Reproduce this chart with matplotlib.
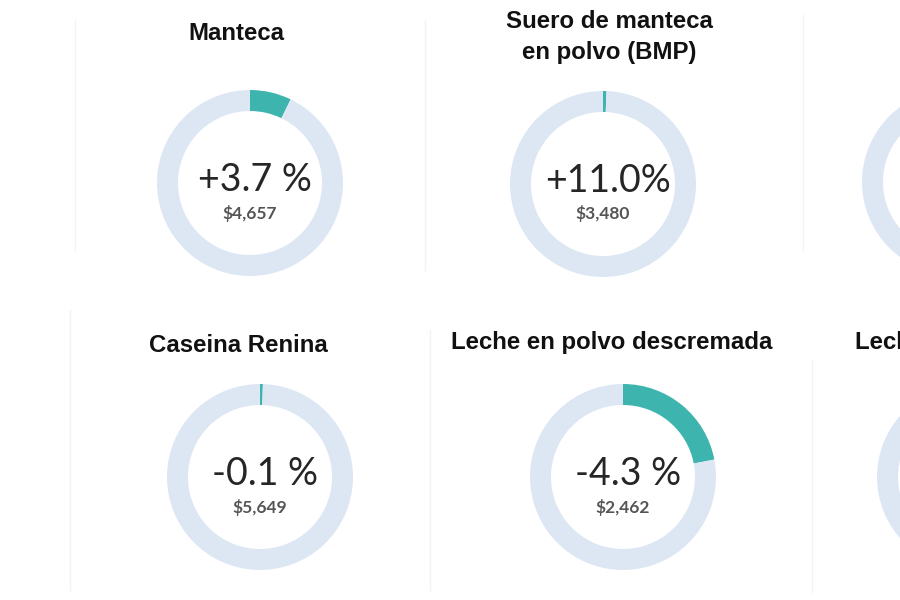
import matplotlib
matplotlib.use("Agg")
import matplotlib.pyplot as plt

# cards of the dashboard (row by row), right column is cut by the picture edge
titles = ["Manteca", "Suero de manteca\nen polvo (BMP)", "",
          "Caseina Renina", "Leche en polvo descremada", "Leche en polvo entera"]
changes = ["+3.7 %", "+11.0%", "", "-0.1 %", "-4.3 %", ""]
prices = ["$4,657", "$3,480", "", "$5,649", "$2,462", ""]
shares = [0.072, 0.006, None, 0.005, 0.22, None]

# layout in pixels (x from left, y from top)
centers = [(250, 183), (603, 184), (955, 182),
           (260, 477), (623, 477), (970, 477)]
title_xy = [(236, 33), (609, 37), (955, 33),
            (238, 345), (612, 342), (855, 342)]
radius = 93
ring_w = 21

teal = "#3db5ae"
ring = "#dde7f4"
H = 600

fig = plt.figure(figsize=(9, 6), dpi=100)
ax = fig.add_axes([0, 0, 1, 1])

# faint card separators
for x, y0, y1 in [(75, 20, 250), (425, 20, 270), (803, 15, 250),
                  (70, 310, 590), (430, 330, 590), (812, 360, 592)]:
    ax.plot([x, x], [H - y0, H - y1], color="#f3f3f3", lw=1, zorder=0)

for i in range(len(titles)):
    cx, cy = centers[i]
    s = shares[i]
    if s is None:
        vals, cols = [1], [ring]
    else:
        vals, cols = [s, 1 - s], [teal, ring]
    ax.pie(vals, colors=cols, startangle=90, counterclock=False,
           radius=radius, center=(cx, H - cy),
           wedgeprops=dict(width=ring_w, linewidth=0))
    if titles[i]:
        tx, ty = title_xy[i]
        ax.text(tx, H - ty, titles[i], ha="left" if i == 5 else "center",
                va="center", fontsize=17.3, fontweight="bold",
                family="Liberation Sans", color="#111111", linespacing=1.4)
    if changes[i]:
        ax.text(cx + 5, H - (cy - 3), changes[i], ha="center", va="center",
                fontsize=27, family="Lato", color="#262626")
    if prices[i]:
        ax.text(cx, H - (cy + 30), prices[i], ha="center", va="center",
                fontsize=12.5, family="Lato", fontweight="bold", color="#555555")

ax.set_xlim(0, 900)
ax.set_ylim(0, 600)
ax.set_aspect("equal")
ax.axis("off")

fig.savefig("out.png", dpi=100, facecolor="white")
